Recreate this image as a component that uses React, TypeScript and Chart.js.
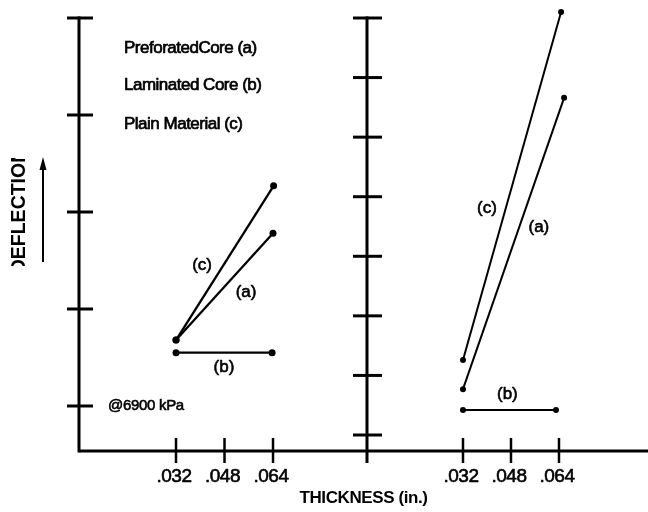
import React, { useEffect, useRef } from "react";
import { Chart, registerables } from "chart.js";

Chart.register(...registerables);

// ---- data ----
const thicknessTicks = [0.032, 0.048, 0.064];
const thicknessTickLabels = [".032", ".048", ".064"];
const leftDeflectionTicks = [1, 2, 3, 4, 5];
const rightDeflectionTicks = [1, 2, 3, 4, 5, 6, 7, 8];

// left panel
const leftPerforatedX = [0.032, 0.064];
const leftPerforatedY = [1.68, 2.78];
const leftLaminatedX = [0.032, 0.0637];
const leftLaminatedY = [1.55, 1.55];
const leftPlainX = [0.032, 0.0642];
const leftPlainY = [1.68, 3.27];

// right panel
const rightPerforatedX = [0.032, 0.0657];
const rightPerforatedY = [1.77, 6.66];
const rightLaminatedX = [0.032, 0.063];
const rightLaminatedY = [1.42, 1.42];
const rightPlainX = [0.032, 0.0647];
const rightPlainY = [2.26, 8.1];

const legendLines = ["PreforatedCore (a)", "Laminated Core (b)", "Plain Material (c)"];
const pressureNote = "@6900 kPa";
const xTitle = "THICKNESS (in.)";
const yTitle = "DEFLECTION";

const curveLabelText = ["(c)", "(a)", "(b)", "(c)", "(a)", "(b)"];
const curveLabelPanel = ["L", "L", "L", "R", "R", "R"];
const curveLabelX = [0.0406, 0.0551, 0.0478, 0.04, 0.0573, 0.0468];
const curveLabelY = [2.45, 2.17, 1.4, 4.81, 4.49, 1.69];

const FONT = "'Liberation Sans', Arial, sans-serif";

function pts(xs: number[], ys: number[]) {
  return xs.map((x, i) => ({ x, y: ys[i] }));
}

function ds(xs: number[], ys: number[], panel: "L" | "R", w: number, r: number) {
  return {
    data: pts(xs, ys),
    xAxisID: panel === "L" ? "xL" : "xR",
    yAxisID: panel === "L" ? "yL" : "yR",
    borderColor: "#000",
    backgroundColor: "#000",
    borderWidth: w,
    pointRadius: r,
    pointBackgroundColor: "#000",
    pointBorderWidth: 0,
    pointHoverRadius: r,
    fill: false,
    tension: 0,
    clip: false as any,
  };
}

function seg(ctx: CanvasRenderingContext2D, x1: number, y1: number, x2: number, y2: number) {
  ctx.beginPath();
  ctx.moveTo(x1, y1);
  ctx.lineTo(x2, y2);
  ctx.stroke();
}

function heavyText(ctx: CanvasRenderingContext2D, t: string, x: number, y: number, sw: number) {
  ctx.fillText(t, x, y);
  if (sw > 0) {
    ctx.lineWidth = sw;
    ctx.strokeText(t, x, y);
  }
}

const panelPlugin = {
  id: "panelAxes",
  beforeDatasetsDraw(chart: any) {
    const { ctx, chartArea: ca, scales } = chart;
    const { xL, xR, yL, yR } = scales;
    ctx.save();
    ctx.strokeStyle = "#000";
    ctx.lineCap = "butt";
    ctx.lineWidth = 3;
    const topL = yL.getPixelForValue(leftDeflectionTicks[leftDeflectionTicks.length - 1]);
    const topR = yR.getPixelForValue(rightDeflectionTicks[rightDeflectionTicks.length - 1]);
    // left y axis
    seg(ctx, ca.left, topL - 1.5, ca.left, ca.bottom + 1.5);
    // x axis line
    seg(ctx, ca.left, ca.bottom, ca.right, ca.bottom);
    // right y axis at thickness 0
    const rx = xR.getPixelForValue(0);
    seg(ctx, rx, topR - 1.5, rx, ca.bottom + 12);
    // y ticks
    for (const v of leftDeflectionTicks) {
      const y = yL.getPixelForValue(v);
      seg(ctx, ca.left - 12, y, ca.left + 14, y);
    }
    for (const v of rightDeflectionTicks) {
      const y = yR.getPixelForValue(v);
      seg(ctx, rx - 14, y, rx + 15, y);
    }
    // x ticks
    ctx.lineWidth = 2.5;
    for (const sc of [xL, xR]) {
      for (const v of thicknessTicks) {
        const x = sc.getPixelForValue(v);
        seg(ctx, x, ca.bottom - 13, x, ca.bottom + 12);
      }
    }
    ctx.restore();
  },
  afterDraw(chart: any) {
    const { ctx, chartArea: ca, scales } = chart;
    const { xL, xR, yL, yR } = scales;
    ctx.save();
    ctx.fillStyle = "#000";
    ctx.strokeStyle = "#000";
    ctx.lineJoin = "round";

    // tick labels
    ctx.font = `19px ${FONT}`;
    ctx.textAlign = "center";
    ctx.textBaseline = "middle";
    (ctx as any).letterSpacing = "-0.5px";
    for (const sc of [xL, xR]) {
      thicknessTicks.forEach((v, i) => {
        heavyText(ctx, thicknessTickLabels[i], sc.getPixelForValue(v) - 2, ca.bottom + 26, 0.6);
      });
    }

    // legend text
    ctx.font = `17px ${FONT}`;
    ctx.textAlign = "left";
    (ctx as any).letterSpacing = "-0.5px";
    const legendYs = [48, 85, 124];
    legendLines.forEach((t, i) => {
      heavyText(ctx, t, ca.left + 45, legendYs[i], 0.7);
    });

    // pressure note
    ctx.font = `15px ${FONT}`;
    (ctx as any).letterSpacing = "-0.3px";
    heavyText(ctx, pressureNote, ca.left + 29, yL.getPixelForValue(1), 0.6);

    // curve labels
    ctx.font = `17px ${FONT}`;
    ctx.textAlign = "center";
    (ctx as any).letterSpacing = "0px";
    curveLabelText.forEach((t, i) => {
      const xs = curveLabelPanel[i] === "L" ? xL : xR;
      const ys = curveLabelPanel[i] === "L" ? yL : yR;
      heavyText(ctx, t, xs.getPixelForValue(curveLabelX[i]), ys.getPixelForValue(curveLabelY[i]), 0.6);
    });

    // x title
    ctx.font = `bold 17px ${FONT}`;
    (ctx as any).letterSpacing = "-0.4px";
    ctx.fillText(xTitle, (ca.left + ca.right) / 2, ca.bottom + 47);

    // y title (rotated, clipped like the source)
    ctx.save();
    ctx.beginPath();
    ctx.rect(0, 158, 40, 108);
    ctx.clip();
    ctx.translate(19.5, 211);
    ctx.rotate(-Math.PI / 2);
    ctx.font = `bold 19.5px ${FONT}`;
    (ctx as any).letterSpacing = "0px";
    ctx.fillText(yTitle, 0, 0);
    ctx.restore();

    // arrow
    ctx.lineWidth = 2;
    seg(ctx, 43, 262, 43, 166);
    ctx.beginPath();
    ctx.moveTo(43, 157);
    ctx.lineTo(39.5, 170);
    ctx.lineTo(46.5, 170);
    ctx.closePath();
    ctx.fill();

    ctx.restore();
  },
};

export default function App() {
  const ref = useRef<HTMLCanvasElement | null>(null);
  useEffect(() => {
    if (!ref.current) return;
    const chart = new Chart(ref.current, {
      type: "line",
      data: {
        datasets: [
          ds(leftPerforatedX, leftPerforatedY, "L", 2.3, 3.5),
          ds(leftLaminatedX, leftLaminatedY, "L", 2.3, 3.5),
          ds(leftPlainX, leftPlainY, "L", 2.3, 3.5),
          ds(rightPerforatedX, rightPerforatedY, "R", 2, 3),
          ds(rightLaminatedX, rightLaminatedY, "R", 2, 3),
          ds(rightPlainX, rightPlainY, "R", 2, 3),
        ] as any,
      },
      options: {
        responsive: false,
        animation: false,
        events: [],
        layout: { autoPadding: false, padding: { left: 79, right: 0, top: 4, bottom: 61 } },
        plugins: { legend: { display: false }, tooltip: { enabled: false } },
        scales: {
          xL: { type: "linear", display: false, min: 0, max: 0.1877 },
          xR: { type: "linear", display: false, min: -0.096, max: 0.09367 },
          yL: { type: "linear", display: false, min: 0.536, max: 5.1443 },
          yR: { type: "linear", display: false, min: 0.7314, max: 8.235 },
        },
      },
      plugins: [panelPlugin],
    });
    return () => chart.destroy();
  }, []);
  return (
    <div style={{ position: "fixed", left: 0, top: 0, width: 648, height: 512, background: "#fff" }}>
      <canvas ref={ref} width={648} height={512} style={{ width: 648, height: 512, display: "block" }} />
    </div>
  );
}
